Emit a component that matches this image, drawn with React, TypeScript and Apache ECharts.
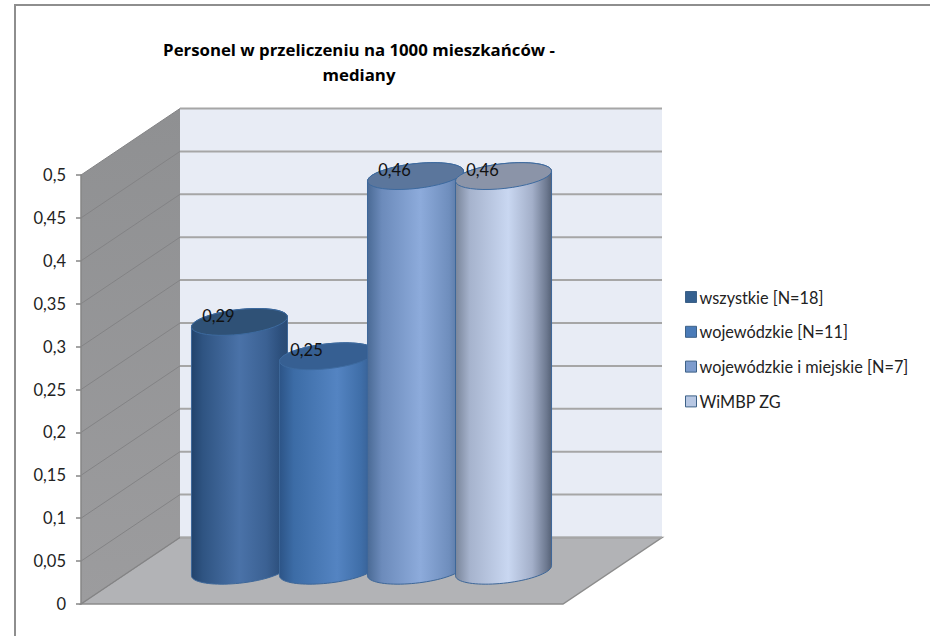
import React, { useEffect, useRef } from "react";
import * as echarts from "echarts";

const titleText = "Personel w przeliczeniu na 1000 mieszkańców -\nmediany";
const categories = ["mediany"];
const seriesNames = [
  "wszystkie [N=18]",
  "wojewódzkie [N=11]",
  "wojewódzkie i miejskie [N=7]",
  "WiMBP ZG",
];
const seriesValues = [0.29, 0.25, 0.46, 0.46];
const yTicks = [0, 0.05, 0.1, 0.15, 0.2, 0.25, 0.3, 0.35, 0.4, 0.45, 0.5];

const bodyStops = [
  [[0, "#22436c"], [0.12, "#2f5482"], [0.5, "#4a72a8"], [0.78, "#3b6193"], [0.93, "#2c4f7c"], [1, "#2b4b74"]],
  [[0, "#2c5487"], [0.15, "#3c6ca6"], [0.6, "#5484c2"], [0.85, "#3f6ea8"], [1, "#34598a"]],
  [[0, "#4a6a95"], [0.15, "#6c8bbb"], [0.55, "#8dabdb"], [0.85, "#6f8ebd"], [1, "#4d6d98"]],
  [[0, "#79859a"], [0.15, "#a6b3cd"], [0.55, "#c9d7f1"], [0.8, "#a3afc9"], [0.95, "#6c788f"], [1, "#566277"]],
];
const topColors = ["#2f5176", "#365f92", "#5b769c", "#8b94a8"];
const legendColors = ["#35608f", "#4a7bb8", "#7d9ccd", "#b7c7e3"];
const bodyOrder = [1, 3, 5, 6];
const topOrder = [2, 4, 7, 8];

const DEPTH_X = 99;
const DEPTH_Y = -66.5;
const SPACING = 0.1826;
const MAJOR = 0.1002;
const MINOR = 0.0257;
const TILT = (-6.37 * Math.PI) / 180;

const ellipsePts = (cx: number, cy: number, a: number, b: number, from: number, to: number) => {
  const pts: number[][] = [];
  for (let k = 0; k <= 40; k++) {
    const t = from + ((to - from) * k) / 40;
    pts.push([
      cx + a * Math.cos(t) * Math.cos(TILT) - b * Math.sin(t) * Math.sin(TILT),
      cy + a * Math.cos(t) * Math.sin(TILT) + b * Math.sin(t) * Math.cos(TILT),
    ]);
  }
  return pts;
};

const cylinder = (i: number) => (_: any, api: any) => {
  const band = api.size([1, 0])[0];
  const v = api.value(1);
  const offset = band * SPACING * (i - 1.5);
  const top = api.coord([0, v]);
  const base = api.coord([0, 0]);
  const cx = top[0] + offset + DEPTH_X / 2;
  const topY = top[1] + DEPTH_Y / 2;
  const baseY = base[1] + DEPTH_Y / 2;
  const a = band * MAJOR;
  const b = band * MINOR;
  const t0 = Math.atan(-(b / a) * Math.tan(TILT));
  const outline = [
    ...ellipsePts(cx, baseY, a, b, t0, t0 + Math.PI),
    ...ellipsePts(cx, topY, a, b, t0 + Math.PI, t0 + 2 * Math.PI),
  ];
  return {
    type: "group",
    children: [
      {
        type: "polygon",
        z2: bodyOrder[i],
        shape: { points: outline },
        style: {
          fill: new echarts.graphic.LinearGradient(
            0, 0, 1, 0,
            bodyStops[i].map(([offset, color]) => ({ offset, color })) as any
          ),
          stroke: "#3d6799",
          lineWidth: 1,
        },
      },
      {
        type: "polygon",
        z2: topOrder[i],
        shape: { points: ellipsePts(cx, topY, a, b, 0, 2 * Math.PI) },
        style: { fill: topColors[i], stroke: "#3d6a9f", lineWidth: 1 },
      },
      {
        type: "text",
        z2: 20,
        style: {
          text: String(v).replace(".", ","),
          x: cx - 21,
          y: topY - 6,
          align: "center",
          verticalAlign: "middle",
          font: "16.5px Lato",
          fill: "#111111",
        },
      },
    ],
  };
};

const wallsItem = (_: any, api: any) => {
  const p0 = api.coord([0, 0]);
  const p1 = api.coord([0, 0.5]);
  const band = api.size([1, 0])[0];
  const l = p0[0] - band / 2;
  const r = p0[0] + band / 2;
  const by = p0[1];
  const ty = p1[1];
  return {
    type: "group",
    children: [
      {
        type: "polygon",
        shape: { points: [[l + DEPTH_X, ty + DEPTH_Y], [r + DEPTH_X, ty + DEPTH_Y], [r + DEPTH_X, by + DEPTH_Y], [l + DEPTH_X, by + DEPTH_Y]] },
        style: { fill: "#e8ecf5" },
      },
      {
        type: "polygon",
        shape: { points: [[l, ty], [l + DEPTH_X, ty + DEPTH_Y], [l + DEPTH_X, by + DEPTH_Y], [l, by]] },
        style: {
          fill: new echarts.graphic.LinearGradient(0, 0, 0, 1, [
            { offset: 0, color: "#8f9092" },
            { offset: 1, color: "#9c9c9e" },
          ]),
        },
      },
      {
        type: "polygon",
        z2: 1,
        shape: { points: [[l, by], [r, by], [r + DEPTH_X, by + DEPTH_Y], [l + DEPTH_X, by + DEPTH_Y]] },
        style: { fill: "#b2b3b6", stroke: "#8c8c8c", lineWidth: 1.5 },
      },
    ],
  };
};

const gridItem = (_: any, api: any) => {
  const p = api.coord([0, api.value(1)]);
  const band = api.size([1, 0])[0];
  const l = p[0] - band / 2;
  const r = p[0] + band / 2;
  return {
    type: "group",
    children: [
      {
        type: "line",
        z2: 2,
        shape: { x1: l + DEPTH_X, y1: p[1] + DEPTH_Y, x2: r + DEPTH_X, y2: p[1] + DEPTH_Y },
        style: { stroke: "#a6a6a6", lineWidth: 2 },
      },
      {
        type: "line",
        z2: 2,
        shape: { x1: l, y1: p[1], x2: l + DEPTH_X, y2: p[1] + DEPTH_Y },
        style: { stroke: "#838385", lineWidth: 1 },
      },
    ],
  };
};

export default function App() {
  const ref = useRef<HTMLDivElement>(null);
  useEffect(() => {
    document.body.style.margin = "0";
    const chart = echarts.init(ref.current!, undefined, { renderer: "svg" });
    chart.setOption({
      animation: false,
      backgroundColor: "#ffffff",
      title: {
        text: titleText,
        left: 359,
        top: 37,
        padding: 0,
        textAlign: "center",
        textStyle: { fontFamily: "Open Sans", fontWeight: "bold", fontSize: 16.8, lineHeight: 25, color: "#000000" },
      },
      legend: {
        orient: "vertical",
        left: 685,
        top: 289,
        padding: 0,
        itemWidth: 11,
        itemHeight: 11,
        itemGap: 18.8,
        icon: "rect",
        textStyle: { fontFamily: "Lato", fontSize: 16.3, lineHeight: 14, color: "#222222", padding: [0, 0, 0, -2] },
        data: seriesNames.map((name, i) => ({
          name,
          itemStyle: { color: legendColors[i], borderColor: "#3d6187", borderWidth: 1 },
        })),
      },
      grid: { left: 81, top: 175, width: 482, height: 429 },
      xAxis: {
        type: "category",
        data: categories,
        axisLine: { show: false },
        axisTick: { show: false },
        axisLabel: { show: false },
        splitLine: { show: false },
      },
      yAxis: {
        type: "value",
        min: 0,
        max: 0.5,
        interval: 0.05,
        z: 5,
        splitLine: { show: false },
        axisLine: { show: true, lineStyle: { color: "#868686", width: 1.5 } },
        axisTick: { show: true, length: 5, lineStyle: { color: "#868686", width: 1.5 } },
        axisLabel: {
          margin: 15,
          padding: [2, 0, 0, 0],
          fontFamily: "Lato",
          fontSize: 16.5,
          color: "#222222",
          formatter: (v: number) => String(+v.toFixed(2)).replace(".", ","),
        },
      },
      series: [
        { type: "custom", name: "walls", z: 1, silent: true, renderItem: wallsItem, data: [[0, 0]], encode: { x: 0, y: 1 } },
        {
          type: "custom",
          name: "grid",
          z: 1,
          silent: true,
          renderItem: gridItem,
          data: yTicks.map((v) => [0, v]),
          encode: { x: 0, y: 1 },
        },
        ...seriesNames.map((name, i) => ({
          type: "custom",
          name,
          z: 2,
          renderItem: cylinder(i),
          itemStyle: { color: legendColors[i] },
          data: [[0, seriesValues[i]]],
          encode: { x: 0, y: 1 },
        })),
      ],
    });
    return () => chart.dispose();
  }, []);
  return (
    <div style={{ position: "relative", width: 930, height: 636 }}>
      <div ref={ref} style={{ width: 930, height: 636 }} />
      <div
        style={{
          position: "absolute",
          left: 14,
          top: 4,
          width: 916,
          height: 632,
          borderLeft: "2px solid #8e8e8e",
          borderTop: "2px solid #8e8e8e",
          boxSizing: "border-box",
          pointerEvents: "none",
        }}
      />
    </div>
  );
}
